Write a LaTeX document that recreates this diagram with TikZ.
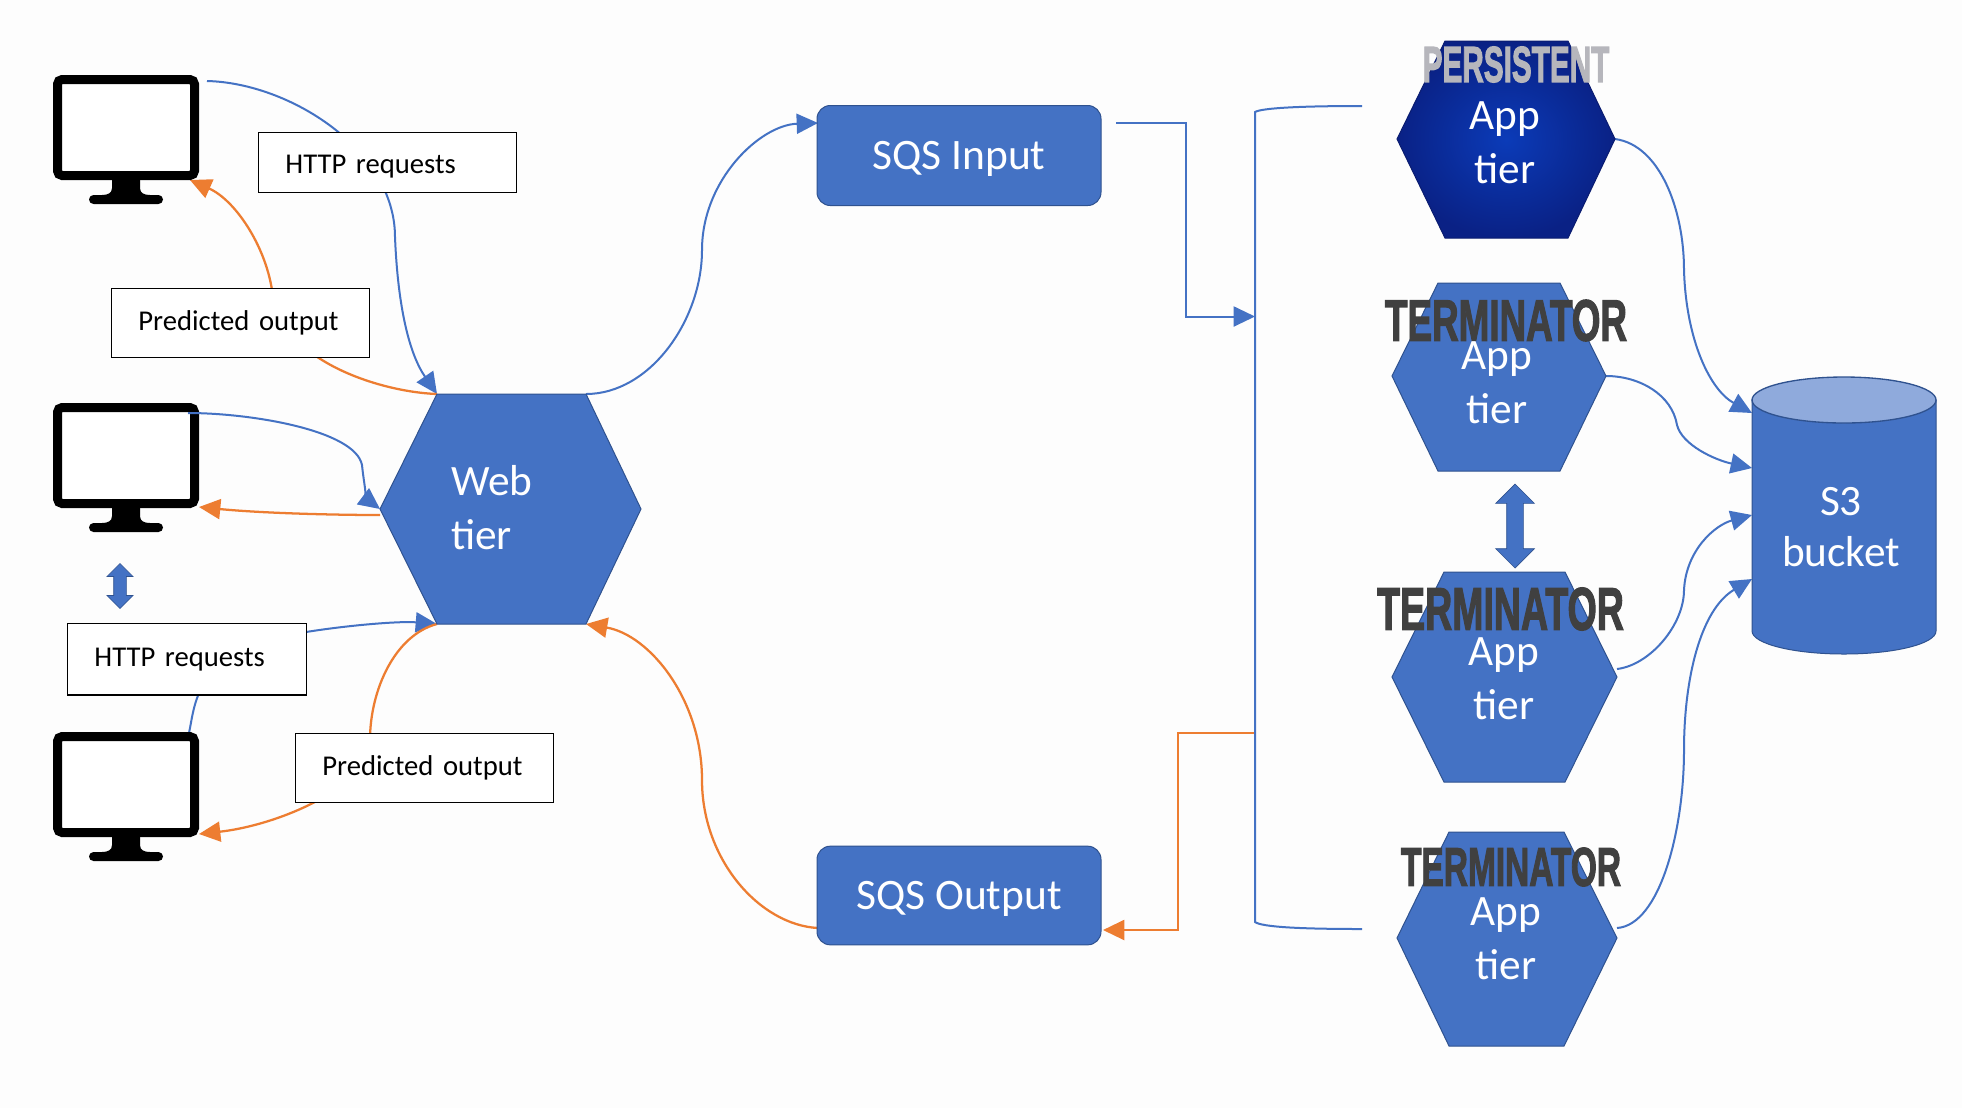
\documentclass[tikz,border=0pt]{standalone}
\usepackage{graphicx}
\usepackage{fontspec}
\setmainfont{Carlito}
\newfontfamily\stampfont[FakeBold=2.5]{Liberation Sans}
\usetikzlibrary{arrows.meta,backgrounds,shapes.arrows}

\definecolor{tierblue}{HTML}{4472C4}
\definecolor{tieredge}{HTML}{2F528F}
\definecolor{lidblue}{HTML}{8FAADC}
\definecolor{flowred}{HTML}{ED7D31}
\definecolor{stampdark}{HTML}{404040}
\definecolor{stamplight}{HTML}{B6B6BC}
\definecolor{darkcore}{HTML}{0B3BB8}
\definecolor{darkrim}{HTML}{0A2185}
\definecolor{darkedge}{HTML}{0A1C70}
\definecolor{paper}{HTML}{FDFDFD}

\tikzset{
  hexa/.style={fill=tierblue,draw=tieredge,line width=0.75pt},
  hexdark/.style={inner color=darkcore,outer color=darkrim,draw=darkedge,line width=0.75pt},
  hextext/.style={text=white,font=\fontsize{32.5}{40.5}\selectfont,align=center,inner sep=0pt},
  queue/.style={fill=tierblue,draw=tieredge,line width=0.75pt,rounded corners=10pt,minimum width=213pt,text=white,text height=27pt,text depth=6.2pt,font=\fontsize{32.6}{36}\selectfont},
  tag/.style={draw=black,fill=white,line width=1.1pt,inner xsep=20pt,inner ysep=0pt,align=left,font=\fontsize{21.5}{24}\selectfont},
  stamp/.style={inner sep=0pt},
  monscreen/.style={draw=black,fill=white,line width=6.75pt,rounded corners=3.5pt,minimum width=102.75pt,minimum height=72pt,anchor=north west},
  updown/.style={double arrow,fill=tierblue,draw=tieredge,line width=0.5pt,rotate=90,inner xsep=0pt},
  flowblue/.style={draw=tierblue,line width=1.5pt},
  floworange/.style={draw=flowred,line width=1.7pt},
  tipped/.style={-{Triangle[length=16pt,width=15pt]}},
}

% screen, neck and base of one monitor
\newcommand{\monitor}[2]{
  \node[monscreen] (#1) at (#2) {};
  \begin{scope}[shift={(#2)}]
    \fill (59,105) -- (87,105) -- (87,113) .. controls (87,118) and (91,120) .. (97,120) -- (49,120) .. controls (55,120) and (59,118) .. (59,113) -- cycle;
    \fill[rounded corners=3.4pt] (36,120) rectangle (110,129);
  \end{scope}
}
\newcommand{\stamptext}[3]{\resizebox{#1pt}{#2pt}{\stampfont\bfseries #3}}

\begin{document}
\begin{tikzpicture}[x=0.75pt,y=0.75pt,yscale=-1,xscale=1]
  \useasboundingbox (0,0) rectangle (1962,1108);

  %Shape: Monitors
  \monitor{monOne}{53,75}
  \monitor{monTwo}{53,403}
  \monitor{monThree}{53,732}

  %Shape: Web tier hexagon
  \draw[hexa] (380,509) coordinate (webW) -- (437,394) coordinate (webNW) -- (586,394) coordinate (webNE) -- (641,509) -- (586,624) coordinate (webSE) -- (437,624) coordinate (webSW) -- cycle;
  % Text Node
  \node[hextext,anchor=west,align=left] (webText) at (451,508) {Web\\tier};

  %Shape: App tier hexagons
  \shade[hexdark] (1397,139) -- (1445,41) -- (1568,41) -- (1615,139) coordinate (appOneE) -- (1568,238) -- (1445,238) -- cycle;
  \draw[hexa] (1392,376) -- (1438,283) -- (1560,283) -- (1606,376) coordinate (appTwoE) -- (1560,471) -- (1438,471) -- cycle;
  \draw[hexa] (1392,677) -- (1444,572) -- (1565,572) -- (1617,677) -- (1565,782) -- (1444,782) -- cycle;
  \draw[hexa] (1397,938) -- (1449,832) -- (1564,832) -- (1617,938) -- (1564,1046) -- (1449,1046) -- cycle;
  % Text Node
  \node[stamp,text=stamplight] (stampOne) at (1516,64.5) {\stamptext{140}{26.5}{PERSISTENT}};
  \node[stamp,text=stampdark] (stampTwo) at (1506,320.5) {\stamptext{181.5}{30.5}{TERMINATOR}};
  \node[stamp,text=stampdark] (stampThree) at (1500.5,609) {\stamptext{185}{31.5}{TERMINATOR}};
  \node[stamp,text=stampdark] (stampFour) at (1511,867) {\stamptext{165}{28.5}{TERMINATOR}};
  \node[hextext] (appOne) at (1505,143) {App\\tier};
  \node[hextext] (appTwo) at (1497,383) {App\\tier};
  \node[hextext] (appThree) at (1504,679) {App\\tier};
  \node[hextext] (appFour) at (1506,939) {App\\tier};

  %Shape: Queues
  \node[queue,minimum height=75pt] (sqsIn) at (959,155.5) {SQS Input};
  \node[queue,minimum height=74pt] (sqsOut) at (959,895.5) {SQS Output};

  %Shape: Bucket
  \draw[hexa] (1752,400) -- (1752,631) arc[start angle=180,end angle=0,x radius=92,y radius=23] -- (1936,400) -- cycle;
  \draw[fill=lidblue,draw=tieredge,line width=1pt] (1844,400) ellipse [x radius=92,y radius=23];
  \node[hextext,font=\fontsize{32.5}{38.5}\selectfont] (bucketText) at (1841,527) {S3\\bucket};

  %Shape: Double arrows
  \node[updown,minimum height=33.75pt,inner ysep=4.5pt,double arrow head extend=5pt] (swapLeft) at (120,586) {};
  \node[updown,minimum height=63pt,inner ysep=6pt,double arrow head extend=8.25pt] (swapRight) at (1515,526) {};

  % Text Node
  \node[tag,anchor=north west,minimum height=45pt,text width=153.5pt,text height=20pt,text depth=4pt] (httpTop) at (258,132) {HTTP requests};
  \node[tag,anchor=north west,minimum height=51.75pt,text width=153.5pt] (predTop) at (111,288) {Predicted output};
  \node[tag,anchor=north west,minimum height=53.5pt,text width=139pt] (httpLow) at (67,623) {HTTP requests};
  \node[tag,anchor=north west,minimum height=51.75pt,text width=153.5pt] (predLow) at (295,733) {Predicted output};

  % connector ends
  \coordinate (monOneOut) at (207,81);
  \coordinate (monOneIn) at (190,180);
  \coordinate (monTwoOut) at (188,413);
  \coordinate (monTwoIn) at (199,507);
  \coordinate (monThreeOut) at (189,733);
  \coordinate (monThreeIn) at (199,834);
  \coordinate (webWOut) at (380,515);
  \coordinate (sqsInTip) at (818,123);
  \coordinate (sqsInOut) at (1116,122.5);
  \coordinate (sqsOutOut) at (818,928);
  \coordinate (sqsOutTip) at (1103,930);
  \coordinate (railTip) at (1255,316.5);
  \coordinate (railTap) at (1255,733);
  \coordinate (railTop) at (1362,106);
  \coordinate (railLow) at (1362,929);
  \coordinate (appThreeE) at (1617,669);
  \coordinate (appFourE) at (1617,928);
  \coordinate (bucketA) at (1752,413);
  \coordinate (bucketB) at (1752,468);
  \coordinate (bucketC) at (1752,515);
  \coordinate (bucketD) at (1752,579);

  \begin{scope}[on background layer]
    \fill[paper] (0,0) rectangle (1962,1108);
    % requests
    \draw[flowblue,tipped] (monOneOut) .. controls (290,83) and (395,150) .. (395,237) .. controls (398,310) and (410,355) .. (webNW);
    \draw[flowblue,tipped] (monThreeOut) .. controls (196,700) and (195,650) .. (306,632) .. controls (350,625) and (400,621) .. (webSW);
    % predictions
    \draw[floworange,tipped] (webNW) .. controls (380,392) and (278,360) .. (272,290) .. controls (265,245) and (235,200) .. (monOneIn);
    \draw[floworange,tipped] (webWOut) .. controls (330,515) and (260,513) .. (monTwoIn);
    \draw[floworange,tipped] (webSW) .. controls (395,635) and (370,690) .. (370,740) .. controls (372,785) and (280,825) .. (monThreeIn);
    % queues
    \draw[flowblue,tipped] (webNE) .. controls (650,394) and (702,320) .. (702,250) .. controls (702,180) and (760,125) .. (sqsInTip);
    \draw[floworange,tipped] (sqsOutOut) .. controls (760,925) and (702,860) .. (702,780) .. controls (702,700) and (650,635) .. (webSE);
    \draw[flowblue,tipped] (sqsInOut) -| (1186,316.5) -- (railTip);
    \draw[floworange,tipped] (railTap) -- (1178,733) |- (sqsOutTip);
    \draw[flowblue] (railTop) .. controls (1300,106) and (1262,108) .. (1255,112) -- (1255,922) .. controls (1262,927) and (1300,929) .. (railLow);
    % bucket
    \draw[flowblue,tipped] (appOneE) .. controls (1660,145) and (1684,210) .. (1684,270) .. controls (1686,340) and (1710,390) .. (bucketA);
    \draw[flowblue,tipped] (appTwoE) .. controls (1640,376) and (1672,395) .. (1677,425) .. controls (1682,445) and (1715,460) .. (bucketB);
    \draw[flowblue,tipped] (appThreeE) .. controls (1650,665) and (1684,625) .. (1684,590) .. controls (1686,550) and (1715,525) .. (bucketC);
    \draw[flowblue,tipped] (appFourE) .. controls (1660,925) and (1684,830) .. (1684,750) .. controls (1684,680) and (1700,610) .. (bucketD);
  \end{scope}

  % over the monitor frame
  \draw[flowblue,tipped] (monTwoOut) .. controls (250,413) and (355,430) .. (362,465) .. controls (364,485) and (368,500) .. (webW);
\end{tikzpicture}
\end{document}
